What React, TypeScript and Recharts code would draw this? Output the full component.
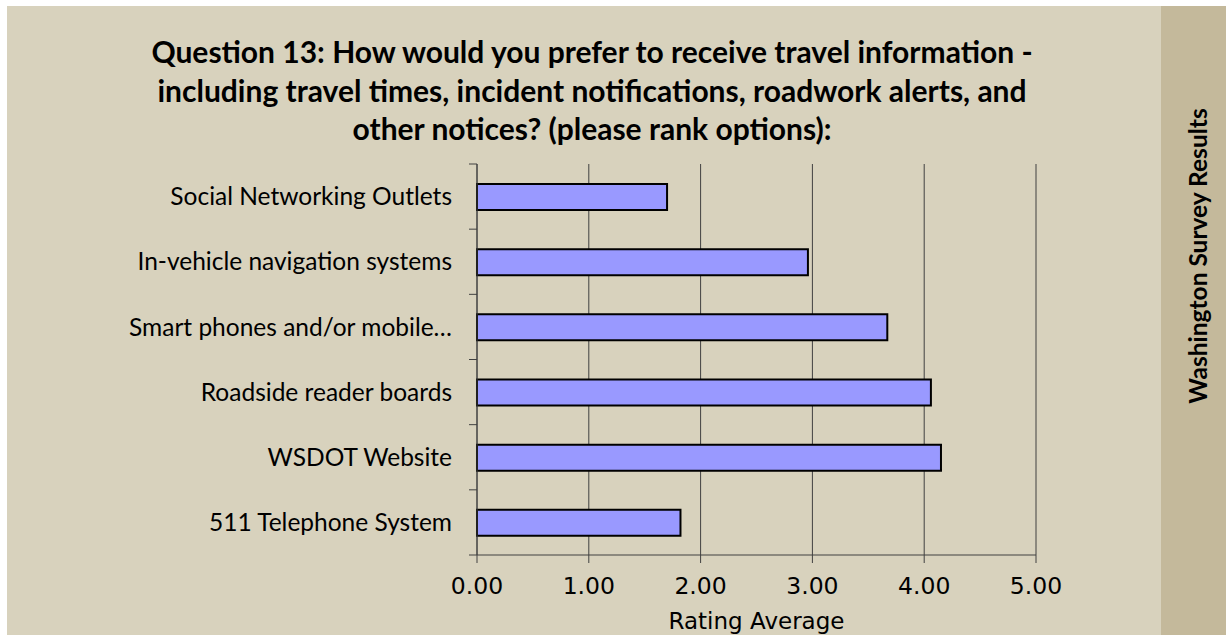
import React from 'react';
import { BarChart, Bar, XAxis, YAxis, CartesianGrid } from 'recharts';

const categories = [
  'Social Networking Outlets',
  'In-vehicle navigation systems',
  'Smart phones and/or mobile…',
  'Roadside reader boards',
  'WSDOT Website',
  '511 Telephone System',
];
const ratings = [1.7, 2.96, 3.67, 4.06, 4.15, 1.82];
const xTicks = [0, 1, 2, 3, 4, 5];

const titleLines = [
  'Question 13: How would you prefer to receive travel information -',
  'including travel times, incident notifications, roadwork alerts, and',
  'other notices? (please rank options):',
];
const sideTitle = 'Washington Survey Results';

const data = categories.map((name, i) => ({ name, rating: ratings[i] }));

const AXIS = '#404040';

// Excel puts the category tick marks between the bars, not at their centres
const CategoryTick = (props: any) => {
  const { x, y, payload, index, visibleTicksCount, height } = props;
  const band = Number(height) / visibleTicksCount;
  const marks = [y - band / 2];
  if (index === visibleTicksCount - 1) marks.push(y + band / 2);
  return (
    <g>
      {Number.isFinite(band) &&
        marks.map((my, i) => <line key={i} x1={x - 8} x2={x} y1={my} y2={my} stroke={AXIS} />)}
      <text x={x - 25} y={y} dy="0.355em" textAnchor="end" fill="#000" fontFamily="Lato" fontSize={24.5}>
        {payload.value}
      </text>
    </g>
  );
};

export default function App() {
  return (
    <div style={{ position: 'absolute', left: 0, top: 0, width: 1226, height: 635, background: '#fff' }}>
      <div style={{ position: 'absolute', left: 7, top: 6, width: 1154, height: 629, background: '#D8D2BD' }} />
      <div style={{ position: 'absolute', left: 1161, top: 6, width: 65, height: 629, background: '#C4B99B' }} />

      <div style={{ position: 'absolute', left: 0, top: 0 }}>
        <BarChart
          width={1161}
          height={635}
          data={data}
          layout="vertical"
          margin={{ top: 164, right: 125, bottom: 0, left: 0 }}
        >
          <CartesianGrid horizontal={false} stroke={AXIS} />
          <XAxis
            type="number"
            domain={[0, 5]}
            ticks={xTicks}
            tickFormatter={(v: number) => v.toFixed(2)}
            height={80}
            tickSize={8}
            tickMargin={14}
            stroke={AXIS}
            tick={{ fill: '#000', fontFamily: 'DejaVu Sans', fontSize: 23.5 }}
            label={{
              value: 'Rating Average',
              position: 'insideBottom',
              offset: 6,
              fill: '#000',
              fontFamily: 'DejaVu Sans',
              fontSize: 23,
            }}
          />
          <YAxis
            type="category"
            dataKey="name"
            width={477}
            interval={0}
            tickLine={false}
            tickSize={0}
            tickMargin={0}
            stroke={AXIS}
            tick={<CategoryTick />}
          />
          <Bar
            dataKey="rating"
            fill="#9999FF"
            stroke="#000"
            strokeWidth={2}
            barSize={26}
            isAnimationActive={false}
          />
        </BarChart>
      </div>

      <svg
        width={1226}
        height={635}
        style={{ position: 'absolute', left: 0, top: 0, pointerEvents: 'none' }}
      >
        {titleLines.map((line, i) => (
          <text
            key={i}
            x={592}
            y={63 + i * 38.5}
            textAnchor="middle"
            fontFamily="Lato"
            fontWeight="bold"
            fontSize={30}
            fill="#000"
          >
            {line}
          </text>
        ))}
        <text
          x={1207}
          y={256}
          transform="rotate(-90 1207 256)"
          textAnchor="middle"
          fontFamily="Lato"
          fontWeight="bold"
          fontSize={24.5}
          fill="#000"
        >
          {sideTitle}
        </text>
      </svg>
    </div>
  );
}
